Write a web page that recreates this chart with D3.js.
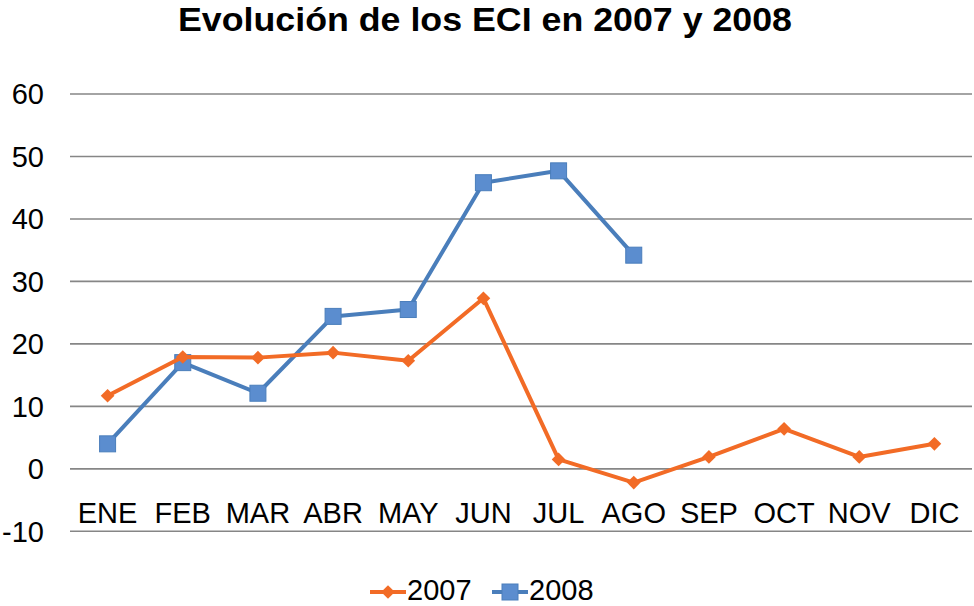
<!DOCTYPE html>
<html>
<head>
<meta charset="utf-8">
<script src="https://cdn.jsdelivr.net/npm/d3@7"></script>
<style>
  body { margin: 0; background: #fff; }
  text { font-family: "Liberation Sans", Arial, sans-serif; fill: #000; }
</style>
</head>
<body>
<svg id="chart"></svg>
<script>
const WIDTH = 974;
const HEIGHT = 606;

const months = ['ENE', 'FEB', 'MAR', 'ABR', 'MAY', 'JUN', 'JUL', 'AGO', 'SEP', 'OCT', 'NOV', 'DIC'];
const values2007 = [11.7, 17.9, 17.8, 18.6, 17.3, 27.3, 1.5, -2.2, 1.9, 6.4, 1.9, 4.0];
const values2008 = [4.0, 17.0, 12.1, 24.4, 25.5, 45.8, 47.7, 34.2];
const yTicks = [-10, 0, 10, 20, 30, 40, 50, 60];

const ORANGE = '#f26b26';
const BLUE = '#4a7ebb';
const BLUE_FILL = '#5b8dcf';

const svg = d3.select('#chart')
  .attr('width', WIDTH)
  .attr('height', HEIGHT);

const x = d3.scaleBand()
  .domain(months)
  .range([70, 972]);

const y = d3.scaleLinear()
  .domain([-10, 60])
  .range([531.3, 94]);

// title
svg.append('text')
  .attr('x', 485)
  .attr('y', 31)
  .attr('text-anchor', 'middle')
  .attr('textLength', 614)
  .attr('lengthAdjust', 'spacingAndGlyphs')
  .style('font-size', '34px')
  .style('font-weight', 'bold')
  .text('Evolución de los ECI en 2007 y 2008');

// horizontal grid
svg.append('g')
  .attr('class', 'grid')
  .selectAll('line')
  .data(yTicks)
  .enter()
  .append('line')
  .attr('x1', 70)
  .attr('x2', 972)
  .attr('y1', d => y(d))
  .attr('y2', d => y(d))
  .attr('stroke', '#868686')
  .attr('stroke-width', 1.6);

// y axis labels
const yAxis = svg.append('g')
  .attr('transform', 'translate(44, 0)')
  .call(d3.axisLeft(y).tickValues(yTicks).tickFormat(d => String(d)).tickSize(0).tickPadding(0));
yAxis.select('.domain').remove();
yAxis.selectAll('text')
  .style('font-size', '29px')
  .attr('dy', '0.34em');

// x axis labels, sitting between 0 and -10
const xAxis = svg.append('g')
  .attr('transform', 'translate(0, 522.5)')
  .call(d3.axisBottom(x).tickSize(0).tickPadding(0));
xAxis.select('.domain').remove();
xAxis.selectAll('text')
  .style('font-size', '29px')
  .attr('dy', 0);

const cx = (d, i) => x(months[i]) + x.bandwidth() / 2;

const line = d3.line()
  .x((d, i) => cx(d, i))
  .y(d => y(d));

function drawSeries(values, color, stroke, markerFn) {
  svg.append('path')
    .datum(values)
    .attr('fill', 'none')
    .attr('stroke', stroke)
    .attr('stroke-width', 4)
    .attr('stroke-linejoin', 'round')
    .attr('d', line);
  markerFn(svg.append('g'), values.map((v, i) => [cx(v, i), y(v)]), color, stroke);
}

function diamonds(g, pts, fill) {
  g.selectAll('path')
    .data(pts)
    .enter()
    .append('path')
    .attr('d', d3.symbol(d3.symbolDiamond2, 120)())
    .attr('transform', d => `translate(${d[0]}, ${d[1]})`)
    .attr('fill', fill);
}

function squares(g, pts, fill, stroke) {
  g.selectAll('rect')
    .data(pts)
    .enter()
    .append('rect')
    .attr('x', d => d[0] - 8)
    .attr('y', d => d[1] - 8)
    .attr('width', 16)
    .attr('height', 16)
    .attr('fill', fill)
    .attr('stroke', stroke)
    .attr('stroke-width', 1);
}

drawSeries(values2008, BLUE_FILL, BLUE, squares);
drawSeries(values2007, ORANGE, ORANGE, diamonds);

// legend
const legendY = 592;
const legend = [
  { name: '2007', color: ORANGE, stroke: ORANGE, x: 370, marker: diamonds },
  { name: '2008', color: BLUE_FILL, stroke: BLUE, x: 492, marker: squares }
];
legend.forEach(l => {
  svg.append('line')
    .attr('x1', l.x)
    .attr('x2', l.x + 36)
    .attr('y1', legendY)
    .attr('y2', legendY)
    .attr('stroke', l.stroke)
    .attr('stroke-width', 4);
  l.marker(svg.append('g'), [[l.x + 18, legendY]], l.color, l.stroke);
  svg.append('text')
    .attr('x', l.x + 37)
    .attr('y', 599.5)
    .style('font-size', '29px')
    .text(l.name);
});
</script>
</body>
</html>
